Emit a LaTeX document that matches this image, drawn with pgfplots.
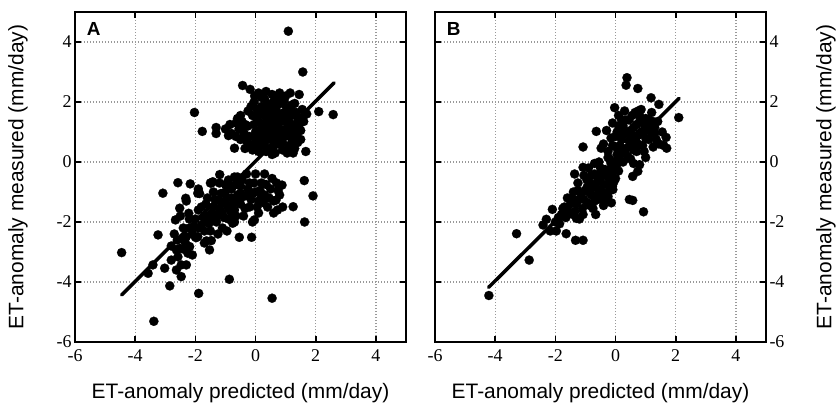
\documentclass[border=0pt]{standalone}
\usepackage{pgfplots}
\pgfplotsset{compat=1.18}
\usepackage{fontspec}
\setmainfont{Liberation Serif}
\newfontfamily\arial{Liberation Sans}
\newfontfamily\tnr{Liberation Serif}
\newcommand\lblfont{\arial\fontsize{21}{24}\selectfont}
\newcommand\tkfont{\tnr\fontsize{18}{18}\selectfont}
\pgfplotsset{myax/.style={
  scale only axis, width=331bp, height=330bp,
  xmin=-6, xmax=5, ymin=-6, ymax=5,
  xtick={-6,-4,...,4}, ytick={-6,-4,...,4},
  xticklabels={\tkfont-6,\tkfont-4,\tkfont-2,\tkfont 0,\tkfont 2,\tkfont 4},
  yticklabels={\tkfont-6,\tkfont-4,\tkfont-2,\tkfont 0,\tkfont 2,\tkfont 4},
  grid=major,
  major grid style={gray!80, line width=1.2bp, dash pattern=on 1.2bp off 1.8bp},
  axis line style={line width=1.6bp},
  tick style={black, line width=1.6bp},
  major tick length=6bp, tick align=inside,
  xlabel={ET-anomaly predicted (mm/day)},
  ylabel={ET-anomaly measured (mm/day)},
}}
\pgfplotsset{fonts/.style={
  x tick label style={yshift=-4bp},
  xlabel style={font=\lblfont, yshift=-15bp},
  ylabel style={font=\lblfont, yshift=#1},
}}
\pgfplotsset{dots/.style={only marks, mark=*, mark size=4.6bp, mark options={fill=black, draw=black, line width=0.2bp}}}
\pgfplotstableread{
x y
1.09 4.36
1.57 3.00
-2.03 1.65
-1.77 1.02
-1.31 1.15
-1.31 0.95
-0.90 0.88
-0.70 0.46
-0.43 2.55
-0.18 2.42
-0.03 2.20
2.58 1.58
2.10 1.68
1.67 0.35
1.70 1.60
-0.60 1.45
-0.55 1.10
-0.50 0.75
-0.35 0.45
-0.25 1.20
-0.20 0.85
-0.10 1.55
-0.05 0.60
0.00 1.00
0.05 1.75
0.10 0.35
0.15 1.30
0.20 2.15
0.25 0.80
0.30 1.55
0.35 1.05
0.40 1.95
0.40 0.45
0.45 1.30
0.50 0.75
0.55 2.25
0.55 1.60
0.60 1.05
0.65 0.30
0.70 1.85
0.70 1.35
0.75 0.60
0.80 2.30
0.80 1.10
0.85 1.60
0.90 0.40
0.95 2.05
0.95 0.85
1.00 1.35
1.05 1.80
1.05 0.30
1.10 1.05
1.15 2.30
1.20 1.55
1.20 0.65
1.30 1.95
1.30 1.20
1.35 0.85
1.40 1.50
1.45 2.25
1.50 1.05
1.55 1.75
1.60 1.35
1.25 0.30
0.20 0.55
-0.15 1.85
0.10 1.65
0.60 0.55
0.90 1.95
0.30 2.10
-0.40 1.00
0.45 1.00
0.75 1.15
0.25 1.25
0.00 0.75
0.15 1.05
0.30 0.65
0.35 1.35
0.50 1.20
0.50 1.80
0.65 0.85
0.65 1.55
0.80 0.85
0.85 1.35
0.95 1.65
1.05 1.15
1.10 1.55
1.15 0.85
1.25 1.05
1.35 1.65
1.45 1.25
0.20 1.85
0.40 1.60
0.60 2.00
0.75 1.95
1.00 2.20
1.10 0.50
0.90 0.65
0.50 0.45
-0.30 0.70
-0.45 1.35
0.10 0.90
-0.05 1.25
0.35 0.35
1.40 0.65
-1.00 1.10
-0.85 1.25
-0.80 0.95
-0.65 1.30
-0.65 0.85
-0.50 1.55
-0.35 1.25
-0.35 0.90
-0.25 1.70
-0.20 0.55
-0.05 2.00
0.05 0.40
0.10 2.30
0.35 2.35
0.55 0.25
0.65 2.15
1.30 0.45
1.50 0.75
1.55 1.45
0.85 2.15
1.20 1.90
0.25 1.60
0.45 1.70
0.70 1.65
0.95 1.45
0.40 0.85
0.60 0.70
0.15 0.70
1.15 1.30
0.05 1.45
0.55 1.40
0.80 1.45
1.00 1.00
1.20 1.70
-0.10 0.40
0.70 0.95
0.35 1.80
1.62 -0.62
1.91 -1.13
1.25 -1.49
1.63 -2.00
-0.54 -2.51
-0.13 -2.51
0.88 -0.77
0.73 -1.60
0.68 -1.27
-0.04 -1.93
-0.76 -2.04
-0.87 -3.91
0.55 -4.54
-3.08 -1.04
-2.58 -0.69
-2.17 -0.73
-1.92 -1.04
-1.42 -0.66
-2.32 -1.21
-2.52 -1.54
-2.22 -1.71
-2.66 -1.93
-3.24 -2.43
-4.45 -3.02
-2.85 -4.13
-1.89 -4.38
-1.53 -2.93
-1.47 -2.62
-3.02 -3.54
-2.80 -3.27
-2.58 -3.16
-2.47 -3.43
-2.63 -3.60
-2.30 -3.43
-2.47 -3.82
-2.25 -3.04
-2.52 -2.88
-2.19 -2.82
-1.92 -2.49
-2.30 -2.49
-2.63 -2.93
-2.41 -2.54
-3.57 -3.71
-3.41 -3.43
-3.38 -5.31
-1.63 -2.63
-1.97 -2.52
-1.86 -1.05
-1.47 -0.70
-1.19 -0.42
-2.20 -2.20
-2.00 -1.90
-2.00 -2.50
-1.80 -1.50
-1.80 -2.10
-1.70 -2.70
-1.60 -1.20
-1.60 -1.80
-1.50 -2.30
-1.40 -1.00
-1.40 -1.50
-1.30 -2.00
-1.20 -0.70
-1.20 -1.30
-1.10 -1.70
-1.10 -2.20
-1.00 -1.00
-1.00 -1.40
-0.90 -0.60
-0.90 -1.90
-0.80 -1.20
-0.80 -0.90
-0.70 -1.60
-0.70 -2.00
-0.60 -0.50
-0.60 -1.10
-0.50 -1.40
-0.50 -0.80
-0.40 -1.80
-0.30 -0.40
-0.30 -1.10
-0.20 -1.50
-0.20 -0.70
-0.10 -2.00
0.00 -1.00
0.00 -0.40
0.10 -1.30
0.10 -1.70
0.20 -0.70
0.30 -1.10
0.30 -0.40
0.40 -1.50
0.50 -0.90
0.60 -1.30
0.70 -0.70
0.80 -1.10
0.90 -1.50
0.60 -1.70
-2.50 -1.80
-2.30 -1.30
-1.90 -0.90
-1.50 -0.70
-2.40 -2.90
-1.25 -2.40
-0.95 -2.30
-1.70 -2.30
-2.10 -3.10
-2.70 -2.40
-2.40 -2.20
-2.20 -1.90
-2.10 -2.40
-1.90 -2.20
-1.90 -1.60
-1.70 -1.90
-1.65 -1.40
-1.55 -2.05
-1.45 -1.70
-1.35 -1.25
-1.30 -1.80
-1.20 -1.55
-1.15 -1.05
-1.05 -1.85
-0.95 -1.20
-0.90 -1.55
-0.85 -0.80
-0.75 -1.40
-0.65 -1.80
-0.65 -0.75
-0.55 -1.25
-0.45 -0.60
-0.40 -1.15
-0.35 -1.55
-0.25 -0.90
-0.15 -1.25
-0.05 -0.70
0.05 -1.50
0.15 -0.95
0.25 -1.35
0.35 -0.75
0.45 -1.20
0.55 -0.55
0.75 -0.95
-1.00 -0.75
-0.70 -0.50
-2.60 -2.60
-2.80 -2.80
-2.35 -2.65
-2.05 -2.15
-1.25 -1.75
-0.80 -1.70
-0.50 -1.05
-0.10 -1.05
0.20 -1.15
-1.50 -1.95
}\dataA
\pgfplotstableread{
x y
0.38 2.81
0.35 2.56
0.74 2.45
1.18 2.14
-0.03 1.81
2.10 1.48
1.44 1.92
1.68 0.82
1.70 0.46
-0.64 1.02
-1.08 0.50
-0.48 0.46
-1.36 -0.40
0.57 -0.48
0.74 -0.31
0.80 -0.09
0.46 -1.25
0.57 -1.28
0.93 -1.66
-0.66 -1.75
-3.29 -2.39
-2.87 -3.27
-4.21 -4.45
-1.64 -2.39
-1.33 -2.61
-1.08 -2.61
-2.10 -1.58
-2.30 -1.91
-2.41 -2.10
-2.17 -2.30
-1.97 -2.30
-1.86 -2.06
-1.75 -1.55
-1.41 -1.75
-1.30 -1.88
-1.08 -1.75
-1.08 -0.18
-0.09 -0.92
-0.14 -1.36
-0.31 -1.06
-1.50 -1.40
-1.40 -1.00
-1.35 -1.65
-1.25 -0.70
-1.20 -1.25
-1.10 -1.55
-1.05 -0.45
-1.00 -0.95
-0.95 -1.35
-0.90 -0.20
-0.85 -0.70
-0.80 -1.10
-0.75 -1.55
-0.70 -0.40
-0.65 -0.85
-0.60 -1.25
-0.55 0.00
-0.50 -0.55
-0.45 -1.00
-0.40 -1.45
-0.35 -0.25
-0.30 -0.75
-0.25 -1.15
-0.20 0.10
-0.15 -0.45
-0.10 -0.80
-0.05 -0.10
0.00 -0.55
0.05 0.25
0.10 -0.30
0.15 0.00
-1.60 -1.20
-1.70 -1.50
-1.80 -1.75
-1.20 -1.90
-0.40 0.60
-0.30 1.05
-0.25 0.35
-0.15 0.80
-0.10 1.30
0.00 0.50
0.05 1.00
0.10 1.55
0.15 0.25
0.20 0.75
0.25 1.20
0.30 1.70
0.35 0.45
0.40 0.95
0.45 1.40
0.50 0.10
0.55 0.65
0.60 1.15
0.65 1.65
0.70 0.35
0.75 0.90
0.80 1.35
0.85 1.75
0.90 0.55
0.95 1.05
1.00 1.45
1.10 0.75
1.15 1.20
1.25 0.50
1.30 0.95
1.40 1.35
1.45 0.60
1.55 1.00
1.60 0.55
0.25 0.00
0.60 -0.05
1.00 0.15
1.20 1.65
0.05 -0.05
1.24 1.35
-0.70 -0.05
-0.95 -0.85
-0.55 -0.95
-1.45 -1.20
-1.30 -1.40
-1.15 -1.05
-1.05 -1.25
-0.95 -0.60
-0.90 -1.00
-0.80 -0.45
-0.75 -0.85
-0.70 -1.30
-0.60 -0.65
-0.55 -1.05
-0.45 -0.35
-0.40 -0.75
-0.35 -1.25
-0.25 -0.50
-0.20 -0.95
-0.10 -0.30
-0.05 -0.65
0.05 0.05
-1.60 -1.60
-1.90 -1.85
-2.00 -2.00
-1.65 -1.85
-1.50 -1.70
-0.50 -0.20
-0.25 0.15
-0.10 0.55
0.00 0.85
0.10 1.20
0.15 0.55
0.25 0.90
0.30 0.30
0.35 1.40
0.45 0.70
0.50 1.05
0.55 1.55
0.60 0.40
0.65 0.85
0.70 1.25
0.75 0.60
0.80 1.55
0.85 1.00
0.90 1.30
1.00 0.80
1.05 1.15
1.10 1.40
1.20 0.95
1.30 1.15
0.40 0.20
0.20 1.40
-1.25 -0.95
-0.85 -1.45
-0.45 -1.25
-0.15 -0.05
0.20 0.45
0.50 0.85
0.75 1.70
1.35 0.75
0.95 0.35
0.30 1.00
}\dataB
\begin{document}
\begin{tikzpicture}
\path[use as bounding box] (-75bp,-66bp) rectangle (762bp,342bp);
\begin{axis}[myax, fonts=22bp, at={(0bp,0bp)}, anchor=south west]
\addplot[dots] table[x=x,y=y] {\dataA};
\addplot[white, line width=5.5bp] coordinates {(-4.45,-4.43) (2.61,2.64)};
\addplot[black, line width=3.5bp, line cap=round] coordinates {(-4.45,-4.43) (2.61,2.64)};
\node[anchor=north west, font=\arial\bfseries\fontsize{19}{19}\selectfont, inner sep=0pt] at (rel axis cs:0.035,0.97) {A};
\end{axis}
\begin{axis}[myax, at={(360bp,0bp)}, anchor=south west, yticklabel pos=right, ylabel near ticks, fonts=-25bp]
\addplot[dots] table[x=x,y=y] {\dataB};
\addplot[white, line width=5.5bp] coordinates {(-4.22,-4.18) (2.11,2.12)};
\addplot[black, line width=3.5bp, line cap=round] coordinates {(-4.22,-4.18) (2.11,2.12)};
\node[anchor=north west, font=\arial\bfseries\fontsize{19}{19}\selectfont, inner sep=0pt] at (rel axis cs:0.035,0.97) {B};
\end{axis}
\end{tikzpicture}
\end{document}
